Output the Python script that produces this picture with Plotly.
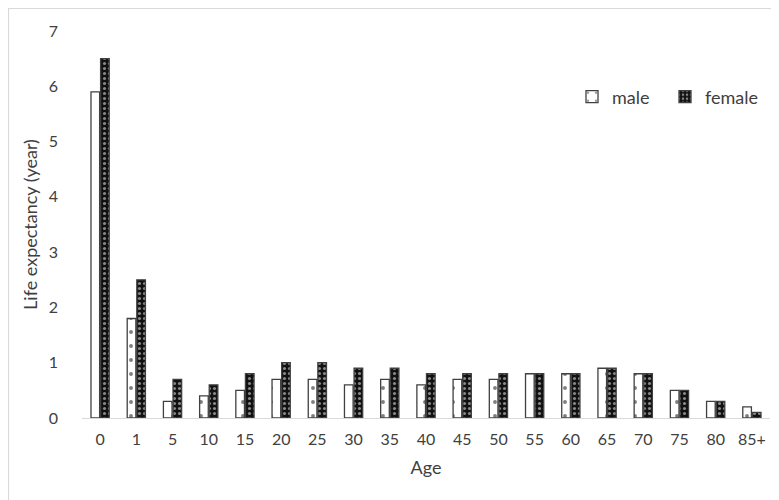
import plotly.graph_objects as go

ages = ["0", "1", "5", "10", "15", "20", "25", "30", "35", "40", "45",
        "50", "55", "60", "65", "70", "75", "80", "85+"]
male = [5.9, 1.8, 0.3, 0.4, 0.5, 0.7, 0.7, 0.6, 0.7, 0.6, 0.7,
        0.7, 0.8, 0.8, 0.9, 0.8, 0.5, 0.3, 0.2]
female = [6.5, 2.5, 0.7, 0.6, 0.8, 1.0, 1.0, 0.9, 0.9, 0.8, 0.8,
          0.8, 0.8, 0.8, 0.9, 0.8, 0.5, 0.3, 0.1]
y_ticks = [0, 1, 2, 3, 4, 5, 6, 7]

# page body adds an 8px offset; figure sized to fill the remaining window
W, H = 771, 492
L, R, T, B = 74, 9, 23, 82
PW, PH = W - L - R, H - T - B

fig = go.Figure()
fig.add_trace(go.Bar(
    name="male", x=ages, y=male,
    marker=dict(color="white", line=dict(color="#404040", width=1.3),
                pattern=dict(shape=".", fgcolor="#000000", bgcolor="white",
                             size=14, solidity=0.06)),
))
fig.add_trace(go.Bar(
    name="female", x=ages, y=female,
    marker=dict(color="#111111", line=dict(color="#404040", width=1.3),
                pattern=dict(shape=".", fgcolor="white", bgcolor="#111111",
                             size=5, solidity=0.3)),
))

fig.update_layout(
    width=W, height=H,
    margin=dict(l=L, r=R, t=T, b=B),
    paper_bgcolor="white", plot_bgcolor="white",
    barmode="group", bargap=0.47, bargroupgap=0.1,
    font=dict(family="Lato, Open Sans, sans-serif", size=16, color="#404040"),
    showlegend=True,
    legend=dict(orientation="h", x=(564 - L) / PW, y=(410 - 89) / PH,
                xanchor="left", yanchor="middle",
                font=dict(size=18, color="#404040"), bgcolor="rgba(0,0,0,0)",
                itemwidth=30, entrywidth=48),
    xaxis=dict(title=dict(text="Age", standoff=14, font=dict(size=18)), showgrid=False,
               showline=True, linecolor="#d9d9d9", linewidth=1.3,
               ticks="", tickfont=dict(size=16), ticklabelstandoff=7,
               fixedrange=True),
    yaxis=dict(title=dict(text="Life expectancy (year)", standoff=6, font=dict(size=18)),
               range=[0, 7], tickvals=y_ticks, showgrid=False,
               showline=False, zeroline=False, ticks="",
               ticklabelstandoff=23, tickfont=dict(size=16)),
    shapes=[dict(type="rect", xref="paper", yref="paper",
                 x0=(0.5 - L) / PW, x1=1.2,
                 y0=-0.5, y1=(H - B - 0.5) / PH,
                 line=dict(color="#d9d9d9", width=1.2), fillcolor="rgba(0,0,0,0)",
                 layer="below")],
)

fig.write_html("out.html")
